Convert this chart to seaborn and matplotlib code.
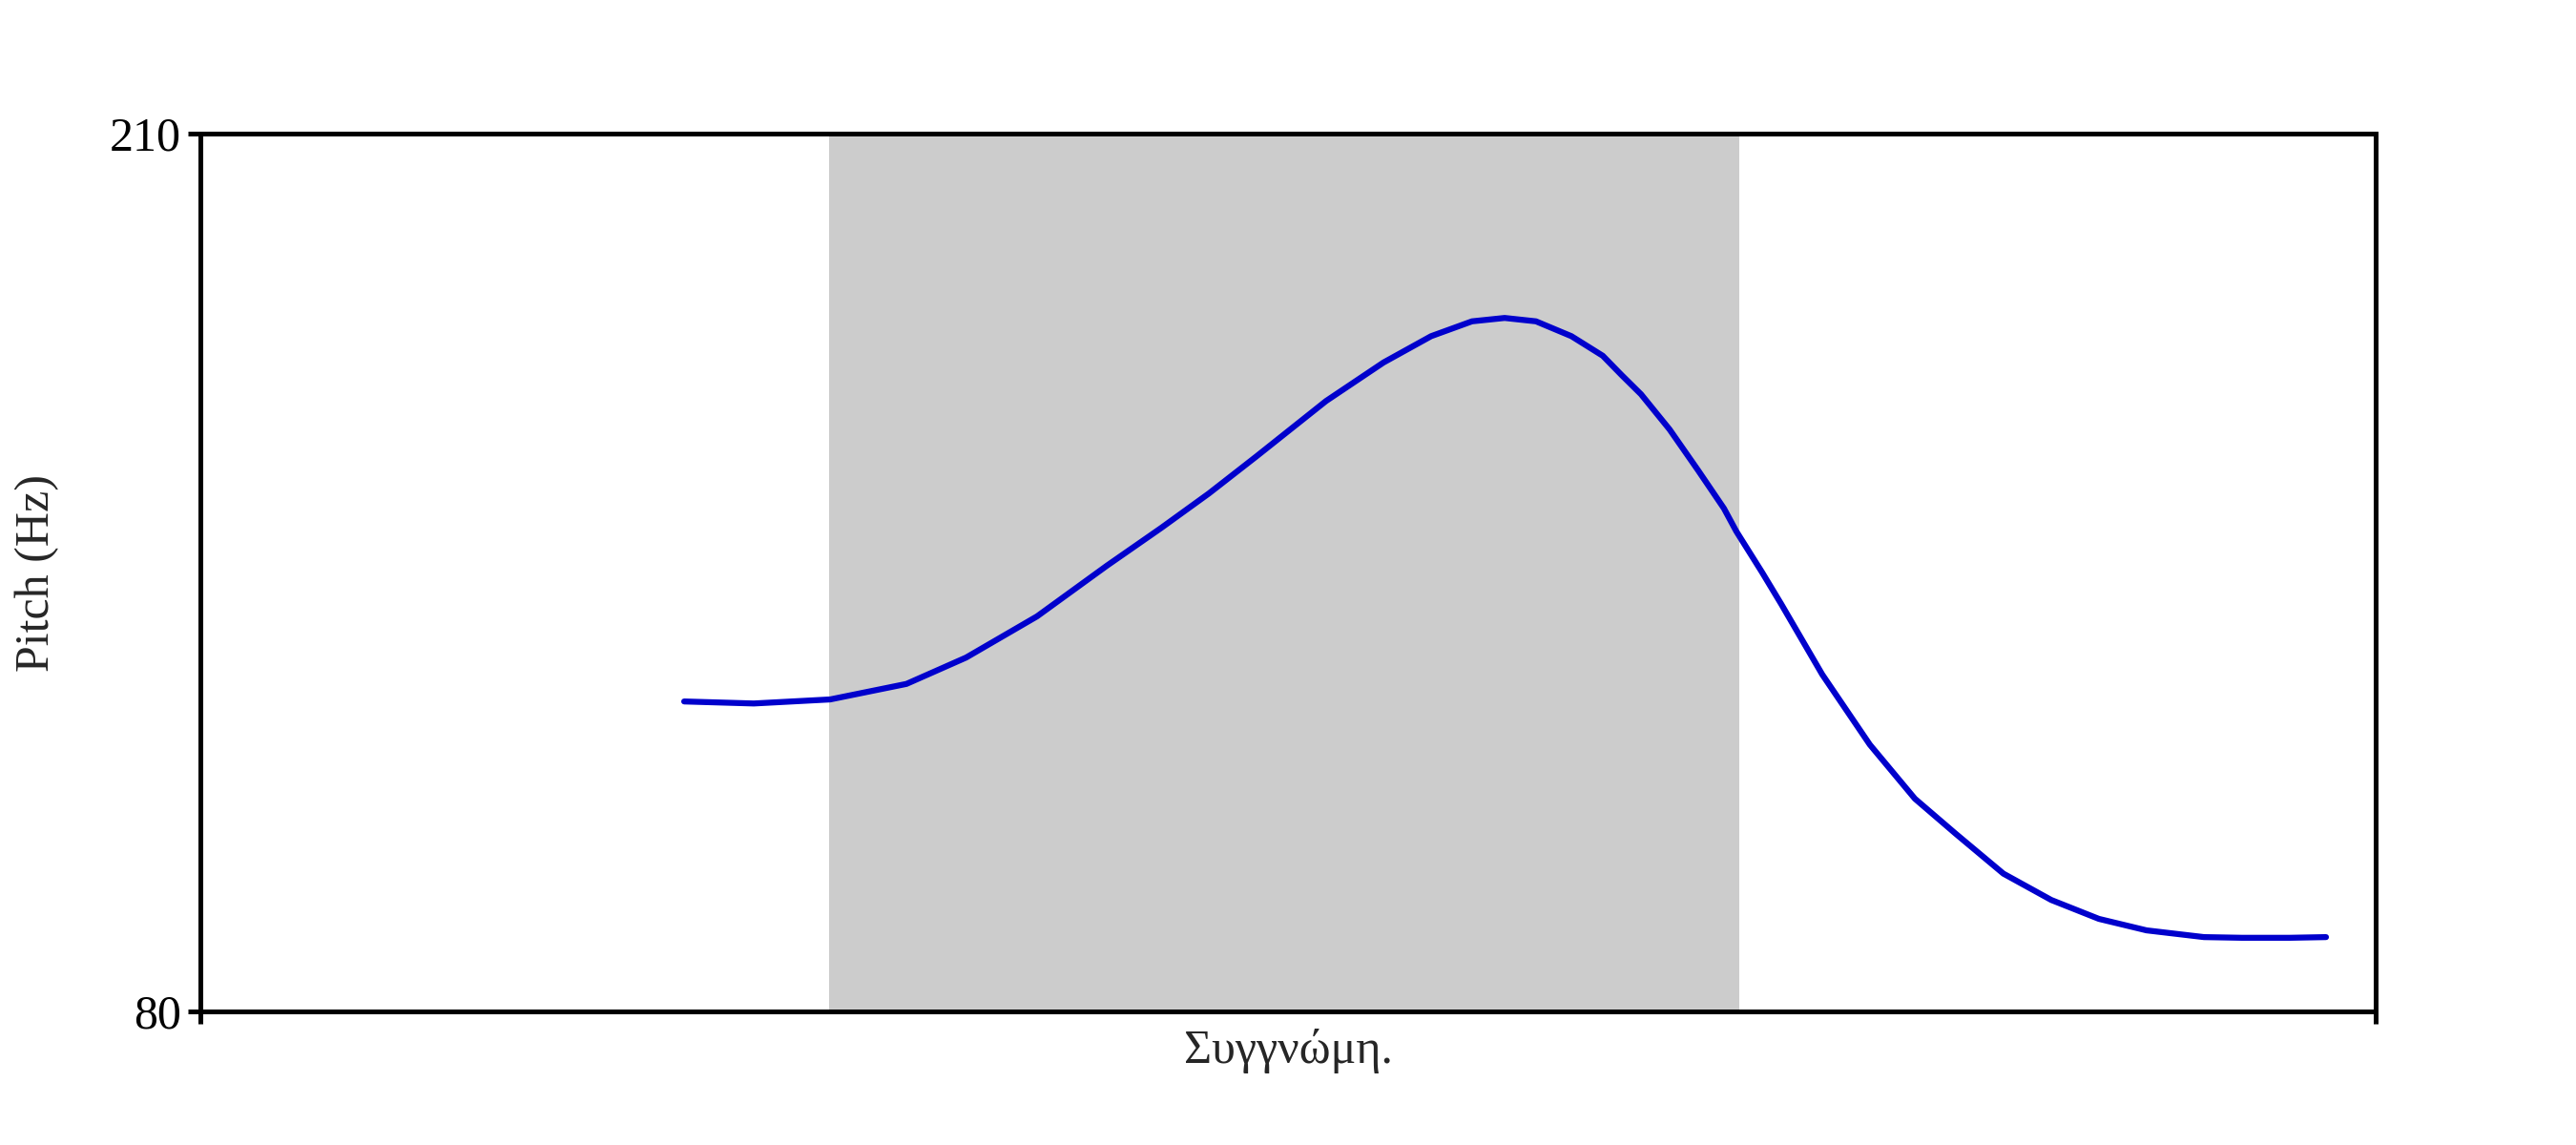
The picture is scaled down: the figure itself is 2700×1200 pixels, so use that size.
import matplotlib
matplotlib.use("Agg")
import matplotlib.pyplot as plt
import seaborn as sns
import pandas as pd

# pitch track (time as fraction of the plotted span, pitch in Hz)
time = [0.2224, 0.2544, 0.2895, 0.3246, 0.3520, 0.3846, 0.4167, 0.4417,
        0.4636, 0.4855, 0.5175, 0.5439, 0.5658, 0.5846, 0.5996, 0.6140,
        0.6303, 0.6447, 0.6535, 0.6623, 0.6754, 0.6886, 0.7004, 0.7061,
        0.7180, 0.7268, 0.7456, 0.7675, 0.7882, 0.8070, 0.8289, 0.8509,
        0.8728, 0.8947, 0.9211, 0.9386, 0.9605, 0.9772]
pitch = [125.9, 125.6, 126.2, 128.5, 132.4, 138.5, 146.0, 151.6,
         156.7, 162.2, 170.4, 176.1, 180.0, 182.2, 182.7, 182.2,
         180.0, 177.1, 174.2, 171.4, 166.2, 160.1, 154.5, 151.1,
         145.0, 140.3, 129.9, 119.5, 111.5, 106.3, 100.4, 96.5,
         93.7, 92.0, 91.0, 90.9, 90.9, 91.0]

# stressed syllable interval
shade_start, shade_end = 0.2890, 0.7075
y_min, y_max = 80, 210
word = "Συγγνώμη."

df = pd.DataFrame({"time": time, "pitch": pitch})

sns.set_style("ticks")
plt.rcParams["font.family"] = ["Liberation Serif", "DejaVu Serif"]

fig = plt.figure(figsize=(27, 12), dpi=100)
ax = fig.add_axes([0.0778, 0.1167, 0.8444, 0.7666])

ax.axvspan(shade_start, shade_end, color="#cccccc", lw=0, zorder=0)
sns.lineplot(data=df, x="time", y="pitch", ax=ax, color="#0000cc",
             linewidth=4.5, sort=False, zorder=2)

ax.set_xlim(0, 1)
ax.set_ylim(y_min, y_max)
ax.set_yticks([y_min, y_max])
ax.set_yticklabels([str(y_min), str(y_max)])
ax.set_xticks([0, 1])
ax.set_xticklabels(["", ""])

for s in ax.spines.values():
    s.set_linewidth(3.6)
    s.set_color("black")
ax.tick_params(axis="both", length=9.5, width=3.6, direction="out",
               labelsize=36, pad=5, colors="black")

ax.set_ylabel("Pitch (Hz)", fontsize=36)
ax.yaxis.set_label_coords(-0.0649, 0.5)
ax.set_xlabel(word, fontsize=36)
ax.xaxis.set_label_coords(0.5, -0.02)

fig.savefig("out.png", dpi=100, facecolor="white")
